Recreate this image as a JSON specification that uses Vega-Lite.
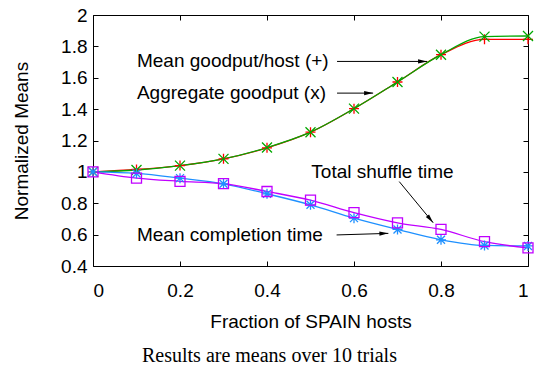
{
  "$schema": "https://vega.github.io/schema/vega-lite/v6.json",
  "width": 435,
  "height": 251,
  "autosize": "none",
  "padding": {"left": 93, "top": 15, "right": 8, "bottom": 103},
  "background": "white",
  "config": {
    "view": {"stroke": "#000", "strokeWidth": 1},
    "font": "Liberation Sans",
    "axis": {
      "grid": false, "domain": false,
      "labelFont": "Liberation Sans", "labelFontSize": 19, "labelColor": "#000",
      "titleFont": "Liberation Sans", "titleFontSize": 19, "titleFontWeight": "normal", "titleColor": "#000",
      "tickColor": "#000", "tickSize": -5, "tickWidth": 1
    }
  },
  "title": {
    "text": "Results are means over 10 trials",
    "orient": "bottom", "anchor": "start", "frame": "group",
    "font": "Liberation Serif", "fontSize": 20, "fontWeight": "normal", "color": "#000",
    "dx": 49, "offset": 15
  },
  "datasets": {
    "series": [
      {"x": 0, "v": 1.0, "s": "Mean goodput/host"},
      {"x": 0.1, "v": 1.015, "s": "Mean goodput/host"},
      {"x": 0.2, "v": 1.04, "s": "Mean goodput/host"},
      {"x": 0.3, "v": 1.083, "s": "Mean goodput/host"},
      {"x": 0.4, "v": 1.153, "s": "Mean goodput/host"},
      {"x": 0.5, "v": 1.253, "s": "Mean goodput/host"},
      {"x": 0.6, "v": 1.403, "s": "Mean goodput/host"},
      {"x": 0.7, "v": 1.573, "s": "Mean goodput/host"},
      {"x": 0.8, "v": 1.747, "s": "Mean goodput/host"},
      {"x": 0.9, "v": 1.845, "s": "Mean goodput/host"},
      {"x": 1.0, "v": 1.845, "s": "Mean goodput/host"},
      {"x": 0, "v": 1.0, "s": "Aggregate goodput"},
      {"x": 0.1, "v": 1.012, "s": "Aggregate goodput"},
      {"x": 0.2, "v": 1.04, "s": "Aggregate goodput"},
      {"x": 0.3, "v": 1.083, "s": "Aggregate goodput"},
      {"x": 0.4, "v": 1.155, "s": "Aggregate goodput"},
      {"x": 0.5, "v": 1.253, "s": "Aggregate goodput"},
      {"x": 0.6, "v": 1.403, "s": "Aggregate goodput"},
      {"x": 0.7, "v": 1.573, "s": "Aggregate goodput"},
      {"x": 0.8, "v": 1.747, "s": "Aggregate goodput"},
      {"x": 0.9, "v": 1.862, "s": "Aggregate goodput"},
      {"x": 1.0, "v": 1.866, "s": "Aggregate goodput"},
      {"x": 0, "v": 1.0, "s": "Mean completion time"},
      {"x": 0.1, "v": 0.99, "s": "Mean completion time"},
      {"x": 0.2, "v": 0.96, "s": "Mean completion time"},
      {"x": 0.3, "v": 0.924, "s": "Mean completion time"},
      {"x": 0.4, "v": 0.86, "s": "Mean completion time"},
      {"x": 0.5, "v": 0.79, "s": "Mean completion time"},
      {"x": 0.6, "v": 0.705, "s": "Mean completion time"},
      {"x": 0.7, "v": 0.633, "s": "Mean completion time"},
      {"x": 0.8, "v": 0.567, "s": "Mean completion time"},
      {"x": 0.9, "v": 0.531, "s": "Mean completion time"},
      {"x": 1.0, "v": 0.528, "s": "Mean completion time"},
      {"x": 0, "v": 1.0, "s": "Total shuffle time"},
      {"x": 0.1, "v": 0.96, "s": "Total shuffle time"},
      {"x": 0.2, "v": 0.94, "s": "Total shuffle time"},
      {"x": 0.3, "v": 0.925, "s": "Total shuffle time"},
      {"x": 0.4, "v": 0.875, "s": "Total shuffle time"},
      {"x": 0.5, "v": 0.82, "s": "Total shuffle time"},
      {"x": 0.6, "v": 0.74, "s": "Total shuffle time"},
      {"x": 0.7, "v": 0.675, "s": "Total shuffle time"},
      {"x": 0.8, "v": 0.633, "s": "Total shuffle time"},
      {"x": 0.9, "v": 0.555, "s": "Total shuffle time"},
      {"x": 1.0, "v": 0.516, "s": "Total shuffle time"}
    ],
    "labels": [
      {"x": 0.101, "y": 1.704, "text": "Mean goodput/host (+)"},
      {"x": 0.101, "y": 1.502, "text": "Aggregate goodput (x)"},
      {"x": 0.502, "y": 1.0, "text": "Total shuffle time"},
      {"x": 0.101, "y": 0.598, "text": "Mean completion time"}
    ],
    "arrows": [
      {"x1": 0.561, "y1": 1.704, "x2": 0.768, "y2": 1.704},
      {"x1": 0.561, "y1": 1.502, "x2": 0.644, "y2": 1.502},
      {"x1": 0.704, "y1": 0.938, "x2": 0.782, "y2": 0.676},
      {"x1": 0.56, "y1": 0.598, "x2": 0.679, "y2": 0.608}
    ]
  },
  "layer": [
    {
      "data": {"name": "series"},
      "mark": {"type": "line", "interpolate": "monotone", "strokeWidth": 1.3},
      "encoding": {
        "x": {"field": "x", "type": "quantitative", "scale": {"domain": [0, 1], "nice": false},
              "axis": {"values": [0, 0.2, 0.4, 0.6, 0.8, 1], "format": "~g", "title": "Fraction of SPAIN hosts", "labelPadding": 20, "titlePadding": 12}},
        "y": {"field": "v", "type": "quantitative", "scale": {"domain": [0.4, 2], "nice": false, "zero": false},
              "axis": {"values": [0.4, 0.6, 0.8, 1, 1.2, 1.4, 1.6, 1.8, 2], "format": "~g", "title": "Normalized Means", "labelPadding": 11, "titlePadding": 29}},
        "color": {"field": "s", "type": "nominal", "legend": null,
                  "scale": {"domain": ["Mean goodput/host", "Aggregate goodput", "Mean completion time", "Total shuffle time"],
                            "range": ["#ff0000", "#00a800", "#1e90ff", "#c000ff"]}},
        "detail": {"field": "s"}
      }
    },
    {
      "data": {"name": "series"},
      "mark": {"type": "point", "filled": false, "strokeWidth": 1.3, "size": 100, "opacity": 1},
      "encoding": {
        "x": {"field": "x", "type": "quantitative", "axis": null},
        "y": {"field": "v", "type": "quantitative", "axis": null},
        "color": {"field": "s", "type": "nominal", "legend": null},
        "shape": {"field": "s", "type": "nominal", "legend": null,
                  "scale": {"domain": ["Mean goodput/host", "Aggregate goodput", "Mean completion time", "Total shuffle time"],
                            "range": ["M-1,0L1,0M0,-1L0,1", "M-1,-1L1,1M-1,1L1,-1", "M-1,0L1,0M0,-1L0,1M-0.8,-0.8L0.8,0.8M-0.8,0.8L0.8,-0.8", "M-1,-1L1,-1L1,1L-1,1Z"]}}
      }
    },
    {
      "data": {"name": "labels"},
      "mark": {"type": "text", "align": "left", "baseline": "middle", "font": "Liberation Sans", "fontSize": 19, "color": "#000"},
      "encoding": {
        "x": {"field": "x", "type": "quantitative", "axis": null},
        "y": {"field": "y", "type": "quantitative", "axis": null},
        "text": {"field": "text"}
      }
    },
    {
      "data": {"name": "arrows"},
      "mark": {"type": "rule", "color": "#000", "strokeWidth": 1},
      "encoding": {
        "x": {"field": "x1", "type": "quantitative", "axis": null},
        "y": {"field": "y1", "type": "quantitative", "axis": null},
        "x2": {"field": "x2"},
        "y2": {"field": "y2"}
      }
    },
    {
      "data": {"name": "arrows"},
      "transform": [
        {"calculate": "(atan2((datum.y1 - datum.y2) * 156.7, (datum.x2 - datum.x1) * 434.7) * 180 / PI + 360) % 360", "as": "ang"}
      ],
      "mark": {"type": "point", "shape": "M0,0L-3,-0.7L-3,0.7Z", "filled": true, "color": "#000", "size": 36, "opacity": 1},
      "encoding": {
        "x": {"field": "x2", "type": "quantitative", "axis": null},
        "y": {"field": "y2", "type": "quantitative", "axis": null},
        "angle": {"field": "ang", "type": "quantitative", "scale": null}
      }
    },
    {
      "data": {"name": "series"},
      "mark": {"type": "point", "opacity": 0},
      "encoding": {
        "x": {"field": "x", "type": "quantitative",
              "axis": {"orient": "top", "values": [0, 0.2, 0.4, 0.6, 0.8, 1], "labels": false, "title": null}},
        "y": {"field": "v", "type": "quantitative",
              "axis": {"orient": "right", "values": [0.4, 0.6, 0.8, 1, 1.2, 1.4, 1.6, 1.8, 2], "labels": false, "title": null}}
      }
    }
  ],
  "resolve": {"axis": {"x": "independent", "y": "independent"}}
}
